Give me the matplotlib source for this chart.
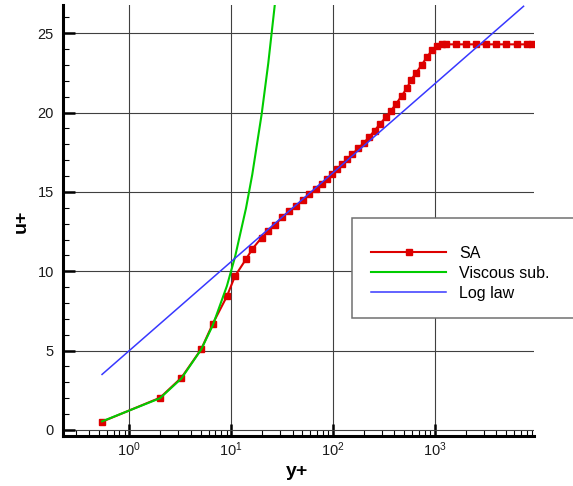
import matplotlib
matplotlib.use('Agg')
import matplotlib.pyplot as plt
from matplotlib.lines import Line2D
from matplotlib.patches import Rectangle
from matplotlib.ticker import LogLocator, MultipleLocator, FixedLocator, FixedFormatter, NullFormatter

plt.rcParams['font.family'] = ['Liberation Sans', 'DejaVu Sans']
plt.rcParams['mathtext.fontset'] = 'custom'
plt.rcParams['mathtext.rm'] = 'Liberation Sans'
plt.rcParams['mathtext.default'] = 'regular'

# ---------------- data ----------------
sa_yplus = [0.54, 2.0, 3.24, 5.08, 6.6, 9.07, 10.9, 13.97, 16.1, 19.9,
            23.1, 26.9, 31.7, 37.2, 43.2, 50.2, 58.4, 67.5, 77.3, 87,
            98, 110, 122, 138, 155, 177, 201, 227, 255, 290,
            328, 370, 414, 471, 528, 582, 651, 740, 828, 940,
            1040, 1163, 1290, 1600, 2010, 2540, 3190, 4000, 5030, 6320,
            7940, 8900]
sa_uplus = [0.52, 2.03, 3.29, 5.09, 6.7, 8.42, 9.7, 10.76, 11.4, 12.12,
            12.52, 12.92, 13.4, 13.8, 14.1, 14.5, 14.85, 15.19, 15.5, 15.8,
            16.1, 16.45, 16.75, 17.06, 17.39, 17.75, 18.1, 18.48, 18.86, 19.3,
            19.7, 20.12, 20.54, 21.05, 21.53, 22.05, 22.5, 23.0, 23.48, 23.94,
            24.2, 24.3, 24.3, 24.3, 24.3, 24.3, 24.3, 24.3, 24.3, 24.3,
            24.3, 24.3]

visc_yplus = [0.54, 2.0, 3.24, 5.08, 6.6, 9.07, 10.9, 13.97, 16.1, 19.9, 23.1, 26.9, 31.7]
visc_uplus = [0.54, 2.0, 3.24, 5.08, 6.6, 9.07, 10.9, 13.97, 16.1, 19.9, 23.1, 26.9, 31.7]

log_yplus = [0.54, 7400]
log_uplus = [3.5, 26.7]

x_ticks = [1, 10, 100, 1000]
x_ticklabels = [r'$10^{0}$', r'$10^{1}$', r'$10^{2}$', r'$10^{3}$']
y_ticks = [0, 5, 10, 15, 20, 25]
y_ticklabels = ['0', '5', '10', '15', '20', '25']
series_labels = ['SA', 'Viscous sub.', 'Log law']
x_label = 'y+'
y_label = 'u+'

# ---------------- styles ----------------
RED = '#dd0000'
GREEN = '#00cc00'
BLUE = '#3838ff'
sa_style = dict(color=RED, lw=1.5, marker='s', ms=4.2, mfc=RED, mec=RED, zorder=3)
visc_style = dict(color=GREEN, lw=1.5, zorder=4)
log_style = dict(color=BLUE, lw=1.1, zorder=5)

W, H = 573, 486
fig = plt.figure(figsize=(W / 100, H / 100), dpi=100)
L, R, T, B = 63, 534, 5, 436
ax = fig.add_axes([L / W, 1 - B / H, (R - L) / W, (B - T) / H])

ax.plot(sa_yplus, sa_uplus, **sa_style)
ax.plot(visc_yplus, visc_uplus, **visc_style)
ax.plot(log_yplus, log_uplus, **log_style)

ax.set_xscale('log')
ax.set_xlim(0.2235, 9370)
ax.set_ylim(-0.38, 26.78)

ax.xaxis.set_major_locator(FixedLocator(x_ticks))
ax.xaxis.set_major_formatter(FixedFormatter(x_ticklabels))
ax.xaxis.set_minor_locator(LogLocator(base=10, subs=range(2, 10), numticks=20))
ax.xaxis.set_minor_formatter(NullFormatter())
ax.yaxis.set_major_locator(FixedLocator(y_ticks))
ax.yaxis.set_major_formatter(FixedFormatter(y_ticklabels))
ax.yaxis.set_minor_locator(MultipleLocator(1))

ax.grid(True, which='major', color='#404040', lw=0.8, zorder=1)
ax.set_axisbelow(True)

for s in ['top', 'right']:
    ax.spines[s].set_visible(False)
for s in ['left', 'bottom']:
    ax.spines[s].set_linewidth(2.2)
    ax.spines[s].set_color('black')

ax.tick_params(axis='both', which='major', direction='in', length=8.3, width=1.8,
               color='black', labelsize=10.5, labelcolor='#1a1a1a')
ax.tick_params(axis='both', which='minor', direction='in', length=4.5, width=0.8, color='black')
ax.tick_params(axis='y', which='major', pad=6.5)
ax.tick_params(axis='x', which='major', pad=3)

fig.text(297 / W, 1 - 476 / H, x_label, ha='center', va='baseline',
         fontsize=14, fontweight='bold')
fig.text(26 / W, 1 - 221.5 / H, y_label, ha='center', va='baseline',
         rotation=90, rotation_mode='anchor', fontsize=14, fontweight='bold')

# ---------------- legend ----------------
box = Rectangle((352 / W, 1 - 318.3 / H), (W + 10 - 352) / W, (318.3 - 218.3) / H,
                transform=fig.transFigure, facecolor='white', edgecolor='#707070',
                lw=1.1, zorder=10, clip_on=False)
fig.add_artist(box)
rows = [(252.3, sa_style, True), (272.3, visc_style, False), (292.3, log_style, False)]
for (yy, st, mk), lab in zip(rows, series_labels):
    st2 = dict(st)
    st2['zorder'] = 11
    xs = [371 / W, 408.5 / W, 446 / W]
    ys = [1 - yy / H] * 3
    if mk:
        ln = Line2D(xs, ys, transform=fig.transFigure, markevery=[1], **st2)
    else:
        ln = Line2D(xs, ys, transform=fig.transFigure, **st2)
    fig.add_artist(ln)
    fig.text(459 / W, 1 - (yy + 5.2) / H, lab, ha='left', va='baseline',
             fontsize=11.5, color='black', zorder=12)

fig.savefig('out.png', dpi=100)
